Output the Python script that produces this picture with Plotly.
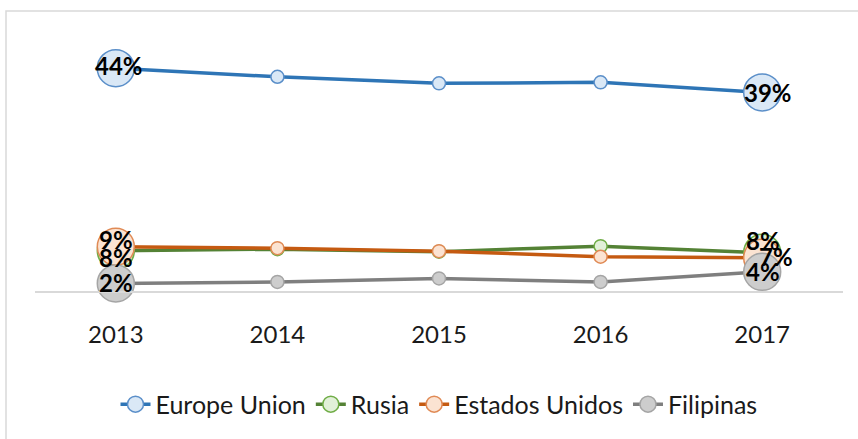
import plotly.graph_objects as go

years = ['2013', '2014', '2015', '2016', '2017']
series_names = ['Europe Union', 'Rusia', 'Estados Unidos', 'Filipinas']
europe_union = [44.2, 42.5, 41.2, 41.4, 39.4]
rusia = [8.0, 8.3, 7.8, 8.9, 7.6]
estados_unidos = [8.8, 8.5, 7.9, 6.8, 6.6]
filipinas = [1.5, 1.8, 2.5, 1.8, 3.8]

values = [europe_union, rusia, estados_unidos, filipinas]
line_colors = ['#2E75B6', '#548235', '#C55A11', '#7F7F7F']
fill_colors = ['#DAE8F6', '#E2F0D9', '#FBE3D2', '#CDCDCD']
edge_colors = ['#5B8FC9', '#70AD47', '#E08A55', '#A5A5A5']
# (xshift, yshift) for first and last data labels, px
label_shift = [
    [(3, 3), (6, 0)],
    [(0, -7), (1, 12)],
    [(0, 7), (14, 1)],
    [(0, 1), (1, 0)],
]

fig = go.Figure()
sizes = [37, 13, 13, 13, 37]
for name, vals, lc, fc, ec in zip(series_names, values, line_colors, fill_colors, edge_colors):
    fig.add_trace(go.Scatter(
        x=years, y=vals, name=name, mode='lines+markers',
        line=dict(color=lc, width=3.5),
        marker=dict(size=sizes, color=fc, opacity=1, line=dict(color=ec, width=1.5)),
        cliponaxis=False,
    ))

annotations = []
for vals, shifts in zip(values, label_shift):
    for idx, (dx, dy) in zip([0, len(years) - 1], shifts):
        annotations.append(dict(
            x=idx, y=vals[idx], xref='x', yref='y',
            text='<b>%d%%</b>' % round(vals[idx]), showarrow=False,
            xshift=dx, yshift=dy,
            font=dict(family='Lato', size=24, color='#000000'),
        ))

fig.update_layout(
    width=858, height=439,
    margin=dict(l=35, r=15, t=39, b=148),
    paper_bgcolor='white', plot_bgcolor='white',
    font=dict(family='Lato', size=24, color='#1a1a1a'),
    showlegend=True,
    legend=dict(orientation='h', x=0.5, xanchor='center', y=-0.45, yanchor='middle',
                font=dict(family='Lato', size=25, color='#1a1a1a'), itemwidth=30),
    annotations=annotations,
    shapes=[dict(type='rect', xref='paper', yref='paper',
                 x0=(6 - 35) / 808, x1=1.2, y0=-1.0, y1=(291 - 11) / 252,
                 line=dict(color='#D9D9D9', width=1.5), layer='below')],
)
fig.update_xaxes(type='category', range=[-0.5, 4.5], showgrid=False, zeroline=False,
                 showline=True, linecolor='#D9D9D9', linewidth=1.5,
                 ticks='', ticklabelstandoff=21,
                 tickfont=dict(family='Lato', size=24, color='#1a1a1a'))
fig.update_yaxes(range=[0, 50], visible=False)

fig.write_html('out.html', config={'displayModeBar': False},
               post_script="document.body.style.margin='0';")
